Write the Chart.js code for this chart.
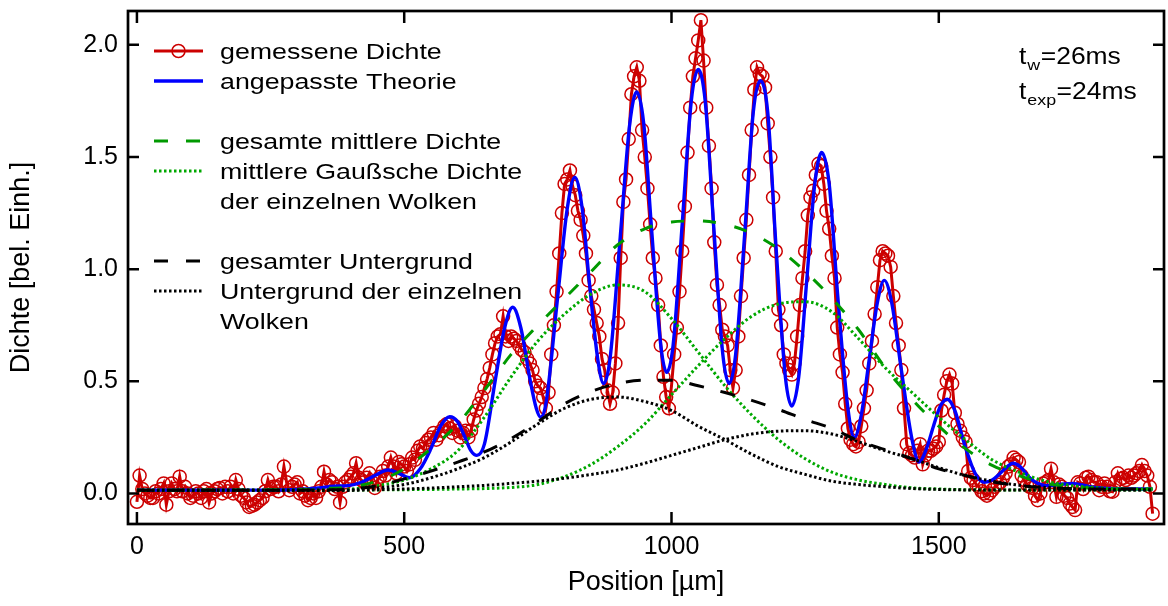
<!DOCTYPE html>
<html>
<head>
<meta charset="utf-8">
<title>Dichte</title>
<script src="https://cdn.jsdelivr.net/npm/chart.js@4.4.0/dist/chart.umd.min.js"></script>
<style>
  html, body { margin: 0; padding: 0; background: #fff; overflow: hidden; }
  #wrap { width: 1172px; height: 606px; }
</style>
</head>
<body>
<div id="wrap"><canvas id="chart" width="1172" height="606"></canvas></div>
<script>
// measured density, one value every 5 µm from 0 to 1900 µm
const measStart = 0, measStep = 5;
const measured = [
  -0.037,0.08,0.02,0.0,-0.01,-0.02,-0.02,0.01,0.0,0.02, 0.045,-0.05,0.01,0.045,0.02,0.01,0.075,0.01,0.03,0.0,
  -0.02,-0.01,0.01,0.0,-0.02,0.01,0.02,-0.04,0.0,0.01, 0.02,0.025,0.0,0.03,0.01,0.03,0.0,0.06,0.02,-0.01,
  -0.02,-0.04,-0.06,-0.055,-0.05,-0.04,-0.03,-0.02,0.01,0.06, 0.02,0.03,0.03,0.01,0.04,0.12,0.05,0.015,0.03,0.04,
  0.05,0.0,0.01,-0.01,-0.03,-0.02,0.0,-0.02,0.01,0.03, 0.097,0.04,0.06,0.05,0.02,0.03,-0.04,0.03,0.05,0.06,
  0.075,0.09,0.135,0.07,0.06,0.05,0.07,0.09,0.05,0.025, 0.06,0.075,0.10,0.08,0.12,0.16,0.12,0.09,0.14,0.13,
  0.12,0.10,0.13,0.16,0.15,0.19,0.21,0.20,0.225,0.24, 0.25,0.27,0.24,0.26,0.28,0.30,0.31,0.29,0.27,0.30,
  0.28,0.25,0.27,0.28,0.25,0.28,0.33,0.37,0.40,0.43, 0.47,0.51,0.56,0.62,0.67,0.70,0.71,0.79,0.70,0.68,
  0.70,0.69,0.68,0.66,0.64,0.63,0.60,0.58,0.55,0.50, 0.48,0.47,0.43,0.38,0.45,0.62,0.75,0.90,1.07,1.25,
  1.38,1.40,1.44,1.37,1.33,1.26,1.22,1.15,1.07,0.95, 0.88,0.82,0.76,0.70,0.60,0.55,0.46,0.40,0.45,0.58,
  0.76,1.05,1.30,1.40,1.58,1.78,1.86,1.90,1.84,1.62, 1.50,1.36,1.20,1.05,0.96,0.84,0.66,0.52,0.43,0.38,
  0.48,0.62,0.74,0.90,1.08,1.28,1.52,1.72,1.86,1.94, 2.02,2.11,1.93,1.72,1.55,1.36,1.12,0.93,0.84,0.73,
  0.70,0.66,0.55,0.47,0.55,0.70,0.88,1.05,1.22,1.42, 1.62,1.80,1.90,1.87,1.86,1.81,1.65,1.50,1.32,1.08,
  0.82,0.75,0.62,0.58,0.55,0.53,0.58,0.70,0.84,0.96, 1.08,1.24,1.32,1.35,1.42,1.47,1.46,1.38,1.26,1.18,
  1.06,0.96,0.74,0.62,0.54,0.40,0.29,0.24,0.22,0.21, 0.23,0.30,0.38,0.46,0.58,0.68,0.80,0.92,1.04,1.08,
  1.07,1.06,1.01,0.88,0.76,0.66,0.55,0.38,0.22,0.18, 0.17,0.16,0.19,0.22,0.13,0.17,0.19,0.19,0.20,0.21,
  0.23,0.37,0.44,0.50,0.53,0.49,0.36,0.31,0.28,0.25, 0.23,0.10,0.07,0.06,0.04,0.03,0.01,0.0,-0.01,0.0,
  0.015,0.03,0.04,0.05,0.07,0.09,0.12,0.13,0.16,0.15, 0.14,0.08,0.06,0.04,0.03,0.025,-0.01,-0.03,0.0,0.045,
  0.05,0.06,0.11,0.05,-0.015,0.04,0.03,-0.01,-0.02,-0.045, -0.06,-0.074,0.05,0.045,0.02,0.07,0.075,0.06,0.05,0.05,
  0.015,0.03,0.045,0.03,0.01,0.008,0.05,0.09,0.065,0.07, 0.06,0.08,0.07,0.08,0.09,0.10,0.127,0.10,0.08,0.03,
  -0.09
];

// fitted theory (read at extrema and half-way points)
const theoryPos = [0,100,200,300,340,370,395,420,445,470, 490,510,530,550,568,585,600,612,625,636,
  650,670,688,703,718,736,747,755,765,787, 805,819,833,846,862,873,885,904,922,935,
  948,963,980,991,1003,1020,1037,1050,1063,1079, 1096,1108,1120,1137,1153,1166,1180,1195,1213,1225,
  1238,1253,1268,1281,1295,1311,1330,1342,1355,1370, 1385,1398,1412,1430,1450,1463,1477,1490,1503,1516,
  1530,1548,1568,1585,1600,1615,1628,1639,1652,1670, 1685,1700,1725,1750,1780,1820,1900];
const theoryVal = [0.015,0.015,0.015,0.018,0.025,0.033,0.035,0.05,0.08,0.105, 0.09,0.07,0.11,0.2,0.3,0.342,0.32,0.26,0.19,0.17,
  0.22,0.5,0.74,0.83,0.74,0.5,0.38,0.34,0.4,0.875, 1.27,1.41,1.27,0.95,0.6,0.49,0.6,1.14,1.65,1.79,
  1.65,1.17,0.66,0.54,0.66,1.2,1.75,1.89,1.75,1.19, 0.62,0.49,0.62,1.16,1.7,1.84,1.7,1.12,0.52,0.39,
  0.52,0.95,1.38,1.52,1.38,0.88,0.38,0.25,0.35,0.6, 0.85,0.95,0.85,0.55,0.24,0.14,0.2,0.3,0.39,0.42,
  0.37,0.22,0.09,0.05,0.06,0.09,0.12,0.135,0.12,0.07, 0.045,0.035,0.04,0.045,0.032,0.022,0.02];

// smooth components
const curvePos = [0,100,200,300,350,400,450,500,550,600, 650,700,750,800,850,900,950,1000,1050,1100,
  1150,1200,1250,1300,1350,1400,1450,1500,1550,1600, 1650,1700,1750,1800,1850,1900];
const meanTotal = [0.015,0.015,0.016,0.018,0.022,0.03,0.055,0.11,0.2,0.31, 0.46,0.62,0.75,0.87,0.99,1.11,1.18,1.21,1.215,1.2,
  1.16,1.09,0.99,0.87,0.73,0.56,0.42,0.3,0.2,0.125, 0.08,0.045,0.03,0.022,0.02,0.02];
const meanCloud1 = [0.015,0.015,0.015,0.015,0.016,0.02,0.035,0.06,0.11,0.19, 0.34,0.52,0.68,0.8,0.89,0.93,0.9,0.78,0.63,0.48,
  0.35,0.24,0.155,0.095,0.06,0.04,0.025,0.02,0.017,0.016, 0.016,0.016,0.016,0.016,0.016,0.016];
const meanCloud2 = [0.015,0.015,0.015,0.015,0.015,0.015,0.016,0.017,0.018,0.02, 0.022,0.027,0.04,0.075,0.13,0.21,0.31,0.44,0.57,0.69,
  0.79,0.845,0.855,0.81,0.69,0.56,0.45,0.34,0.24,0.15, 0.095,0.055,0.035,0.025,0.02,0.02];
const bgTotal = [0.015,0.015,0.015,0.015,0.016,0.02,0.035,0.065,0.1,0.14, 0.185,0.245,0.32,0.4,0.455,0.49,0.505,0.505,0.48,0.45,
  0.415,0.375,0.33,0.29,0.235,0.195,0.155,0.11,0.08,0.052, 0.035,0.026,0.022,0.02,0.02,0.02];
const bgCloud1 = [0.015,0.015,0.015,0.015,0.015,0.015,0.025,0.04,0.07,0.11, 0.16,0.23,0.31,0.38,0.42,0.43,0.41,0.37,0.3,0.24,
  0.175,0.12,0.085,0.055,0.04,0.03,0.022,0.018,0.016,0.016, 0.016,0.016,0.016,0.016,0.016,0.016];
const bgCloud2 = [0.015,0.015,0.015,0.015,0.015,0.015,0.017,0.02,0.024,0.03, 0.036,0.045,0.055,0.068,0.085,0.105,0.135,0.17,0.205,0.24,
  0.265,0.278,0.28,0.265,0.23,0.19,0.155,0.115,0.08,0.055, 0.037,0.027,0.021,0.018,0.017,0.017];

const xTicks = [0, 500, 1000, 1500];
const yTicks = [0, 0.5, 1.0, 1.5, 2.0];
const legendLabels = ['gemessene Dichte', 'angepasste Theorie', 'gesamte mittlere Dichte',
  'mittlere Gaußsche Dichte', 'der einzelnen Wolken', 'gesamter Untergrund',
  'Untergrund der einzelnen', 'Wolken'];

const FONT = '"Liberation Sans", Arial, Helvetica, sans-serif';
const RED = '#cc0000', BLUE = '#0000ff', GREEN = '#009900', GREEN_DOT = '#00a800';
const DASH = [14, 18], DOT = [2.5, 2.5];

const pts = (xs, ys) => ys.map((y, i) => ({ x: xs[i], y }));
const measPos = measured.map((_, i) => measStart + i * measStep);

function curve(label, ys, color, dash){
  return {
    label, data: pts(curvePos, ys),
    borderColor: color, borderWidth: 3, borderDash: dash,
    pointRadius: 0, cubicInterpolationMode: 'monotone', fill: false
  };
}

// text squeezed like the original (wide Helvetica look)
function wideText(ctx, text, x, y, sx){
  ctx.save();
  ctx.translate(x, y);
  ctx.scale(sx, 1);
  ctx.fillText(text, 0, 0);
  ctx.restore();
  return ctx.measureText(text).width * sx;
}

const framePlugin = {
  id: 'frame',
  afterDatasetsDraw(chart){
    const { ctx, chartArea: a, scales: { x, y } } = chart;
    ctx.save();
    ctx.strokeStyle = '#000';
    ctx.lineWidth = 2.7;
    ctx.strokeRect(a.left, a.top, a.right - a.left, a.bottom - a.top);
    ctx.lineWidth = 2.5;
    ctx.beginPath();
    xTicks.forEach(v => {
      const px = x.getPixelForValue(v);
      ctx.moveTo(px, a.bottom); ctx.lineTo(px, a.bottom - 12);
      ctx.moveTo(px, a.top); ctx.lineTo(px, a.top + 12);
    });
    yTicks.forEach(v => {
      const py = y.getPixelForValue(v);
      ctx.moveTo(a.left, py); ctx.lineTo(a.left + 11, py);
      ctx.moveTo(a.right, py); ctx.lineTo(a.right - 11, py);
    });
    ctx.stroke();
    ctx.restore();
  }
};

const legendPlugin = {
  id: 'legendBox',
  afterDraw(chart){
    const ctx = chart.ctx;
    const x0 = 154, x1 = 203, tx = 220, sx = 1.19;
    const base = [59, 89, 149, 179, 209, 269, 299, 329];
    const samples = [
      { color: RED, dash: [], w: 3, marker: true },
      { color: BLUE, dash: [], w: 3.4 },
      { color: GREEN, dash: DASH, w: 3 },
      { color: GREEN_DOT, dash: DOT, w: 3 },
      null,
      { color: '#000', dash: DASH, w: 3 },
      { color: '#000', dash: DOT, w: 3 },
      null
    ];
    ctx.save();
    samples.forEach((s, i) => {
      if(!s) return;
      const ly = base[i] - 8;
      ctx.strokeStyle = s.color;
      ctx.lineWidth = s.w;
      ctx.setLineDash(s.dash);
      ctx.beginPath(); ctx.moveTo(x0, ly); ctx.lineTo(x1, ly); ctx.stroke();
      if(s.marker){
        ctx.setLineDash([]);
        ctx.lineWidth = 1.5;
        ctx.fillStyle = '#fff';
        ctx.beginPath(); ctx.arc((x0 + x1) / 2, ly, 6.5, 0, Math.PI * 2); ctx.stroke();
      }
    });
    ctx.setLineDash([]);
    ctx.fillStyle = '#000';
    ctx.textBaseline = 'alphabetic';
    ctx.textAlign = 'left';
    ctx.font = `22.5px ${FONT}`;
    legendLabels.forEach((t, i) => wideText(ctx, t, tx, base[i], sx));

    // t_w / t_exp note, top right
    const rows = [['w', '=26ms', 64], ['exp', '=24ms', 99]];
    rows.forEach(([sub, rest, by]) => {
      let x = 1019;
      ctx.font = `23px ${FONT}`;
      x += wideText(ctx, 't', x, by, 1.15) + 1;
      ctx.font = `15.5px ${FONT}`;
      x += wideText(ctx, sub, x, by + 6, 1.15) + 0.5;
      ctx.font = `23px ${FONT}`;
      wideText(ctx, rest, x, by, 1.15);
    });
    ctx.restore();
  }
};

const xMin = -16.7, xMax = 1921.3;
const yMin = -0.136, yMax = 2.151;

new Chart(document.getElementById('chart'), {
  type: 'line',
  data: {
    datasets: [
      curve('Untergrund der einzelnen Wolken', bgCloud1, '#000', DOT),
      curve('Untergrund der einzelnen Wolken (2)', bgCloud2, '#000', DOT),
      curve('gesamter Untergrund', bgTotal, '#000', [15, 17]),
      curve('mittlere Gaußsche Dichte', meanCloud1, GREEN_DOT, DOT),
      curve('mittlere Gaußsche Dichte (2)', meanCloud2, GREEN_DOT, DOT),
      curve('gesamte mittlere Dichte', meanTotal, GREEN, [13, 19]),
      {
        label: 'angepasste Theorie',
        data: pts(theoryPos, theoryVal),
        borderColor: BLUE, borderWidth: 3.4,
        pointRadius: 0, cubicInterpolationMode: 'monotone', fill: false
      },
      {
        label: 'gemessene Dichte',
        data: pts(measPos, measured),
        borderColor: RED, borderWidth: 3, tension: 0,
        pointStyle: 'circle', pointRadius: 6.5, pointBorderWidth: 1.5,
        pointBorderColor: RED, pointBackgroundColor: 'rgba(0,0,0,0)', fill: false
      }
    ]
  },
  options: {
    responsive: false,
    devicePixelRatio: 1,
    animation: false,
    events: [],
    layout: { padding: { left: 0, top: 11, right: 0, bottom: 0 } },
    plugins: {
      legend: { display: false },
      tooltip: { enabled: false }
    },
    scales: {
      x: {
        type: 'linear', min: xMin, max: xMax,
        afterBuildTicks: s => { s.ticks = xTicks.map(v => ({ value: v })); },
        afterFit: s => { s.height = 82; s.paddingLeft = 0; s.paddingRight = 0; },
        grid: { display: false, drawTicks: false },
        border: { display: false },
        ticks: { color: '#000', font: { family: FONT, size: 25, lineHeight: 1.2 }, padding: 8, maxRotation: 0, autoSkip: false, callback: v => String(v) },
        title: { display: true, text: 'Position [µm]', color: '#000', font: { family: FONT, size: 27, lineHeight: 1.2 }, padding: { top: 0, bottom: 7 } }
      },
      y: {
        type: 'linear', min: yMin, max: yMax,
        afterBuildTicks: s => { s.ticks = yTicks.map(v => ({ value: v })); },
        afterFit: s => { s.width = 128; s.paddingTop = 0; s.paddingBottom = 0; },
        grid: { display: false, drawTicks: false },
        border: { display: false },
        ticks: { color: '#000', font: { family: FONT, size: 25, lineHeight: 1.2 }, padding: 10, callback: v => v.toFixed(1) },
        title: { display: true, text: 'Dichte [bel. Einh.]', color: '#000', font: { family: FONT, size: 27, lineHeight: 1.2 }, padding: { top: 5, bottom: 0 } }
      }
    }
  },
  plugins: [framePlugin, legendPlugin]
});
</script>
</body>
</html>
